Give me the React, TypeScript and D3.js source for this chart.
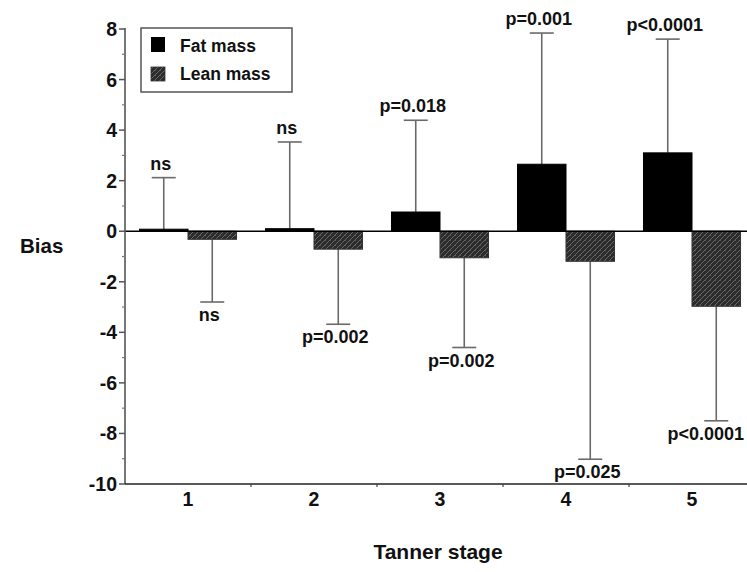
import React from "react";
import * as d3 from "d3";

const stages = ["1", "2", "3", "4", "5"];
const series = ["Fat mass", "Lean mass"];
const fatMass = [0.08, 0.1, 0.76, 2.65, 3.1];
const fatErr = [2.12, 3.53, 4.39, 7.84, 7.6];
const leanMass = [-0.32, -0.71, -1.05, -1.19, -2.97];
const leanErr = [-2.8, -3.68, -4.6, -9.02, -7.5];
const fatLabels = ["ns", "ns", "p=0.018", "p=0.001", "p<0.0001"];
const leanLabels = ["ns", "p=0.002", "p=0.002", "p=0.025", "p<0.0001"];
const yTicks = [-10, -8, -6, -4, -2, 0, 2, 4, 6, 8];
const yMinor = [-9, -7, -5, -3, -1, 1, 3, 5, 7];

const W = 747;
const H = 572;
const FONT = "'Liberation Sans', Arial, Helvetica, sans-serif";

export default function App() {
  const y = d3.scaleLinear().domain([-10, 8]).range([484, 29]);
  const x0 = d3.scaleBand<string>().domain(stages).range([125, 755]).paddingInner(0.23).paddingOuter(0.115);
  const x1 = d3.scaleBand<string>().domain(series).range([0, x0.bandwidth()]);
  const bw = x1.bandwidth();
  const capHalf = 12;
  const errColor = "#6a6a6a";

  const clampX = (cx: number, label: string) => {
    const approx = label.length * 9.8;
    return Math.min(cx, W - 2 - approx / 2);
  };

  return (
    <svg width={W} height={H} style={{ position: "absolute", left: 0, top: 0, background: "#fff" }} fontFamily={FONT}>
      <defs>
        <pattern id="hatch" width="5" height="5" patternUnits="userSpaceOnUse">
          <rect width="5" height="5" fill="#2c2c2c" />
          <line x1="0" y1="5" x2="5" y2="0" stroke="#6e6e6e" strokeWidth="0.9" />
          <line x1="-1" y1="1" x2="1" y2="-1" stroke="#6e6e6e" strokeWidth="0.9" />
          <line x1="4" y1="6" x2="6" y2="4" stroke="#6e6e6e" strokeWidth="0.9" />
          <rect x="0" y="0" width="1" height="1" fill="#555" />
        </pattern>
      </defs>

      {/* error bars (drawn first, behind bars) */}
      {stages.map((s, i) => {
        const fx = x0(s)! + x1("Fat mass")! + bw / 2;
        const lx = x0(s)! + x1("Lean mass")! + bw / 2;
        return (
          <g key={"e" + s} stroke={errColor} strokeWidth={1.6}>
            <line x1={fx} x2={fx} y1={y(fatMass[i])} y2={y(fatErr[i])} />
            <line x1={fx - capHalf} x2={fx + capHalf} y1={y(fatErr[i])} y2={y(fatErr[i])} />
            <line x1={lx} x2={lx} y1={y(leanMass[i])} y2={y(leanErr[i])} />
            <line x1={lx - capHalf} x2={lx + capHalf} y1={y(leanErr[i])} y2={y(leanErr[i])} />
          </g>
        );
      })}

      {/* bars */}
      {stages.map((s, i) => {
        const fx = x0(s)! + x1("Fat mass")!;
        const lx = x0(s)! + x1("Lean mass")!;
        const fy = Math.min(y(fatMass[i]), y(0));
        const fh = Math.abs(y(fatMass[i]) - y(0));
        return (
          <g key={"b" + s}>
            <rect x={fx} y={fy} width={bw} height={Math.max(fh, 1)} fill="#000" stroke="#000" strokeWidth={1} />
            <rect x={lx} y={y(0)} width={bw} height={y(leanMass[i]) - y(0)} fill="url(#hatch)" stroke="#333" strokeWidth={1} />
          </g>
        );
      })}

      {/* zero line */}
      <line x1={125} x2={W} y1={y(0)} y2={y(0)} stroke="#000" strokeWidth={1.5} />

      {/* annotations */}
      {stages.map((s, i) => {
        const fx = x0(s)! + x1("Fat mass")! + bw / 2;
        const lx = x0(s)! + x1("Lean mass")! + bw / 2;
        return (
          <g key={"t" + s} fontSize={18} fontWeight="bold" textAnchor="middle" fill="#111">
            <text x={clampX(fx - 3, fatLabels[i])} y={y(fatErr[i]) - 8}>{fatLabels[i]}</text>
            <text x={clampX(lx - 3, leanLabels[i])} y={y(leanErr[i]) + 19}>{leanLabels[i]}</text>
          </g>
        );
      })}

      {/* y axis */}
      <line x1={125} x2={125} y1={y(8) - 1} y2={y(-10)} stroke="#555" strokeWidth={1.6} />
      {yTicks.map((t) => (
        <g key={"yt" + t}>
          <line x1={119} x2={125} y1={y(t)} y2={y(t)} stroke="#555" strokeWidth={1.5} />
          <text x={117} y={y(t)} dy="0.36em" textAnchor="end" fontSize={19.5} fontWeight="bold" fill="#111">
            {t}
          </text>
        </g>
      ))}
      {yMinor.map((t) => (
        <line key={"ym" + t} x1={122} x2={125} y1={y(t)} y2={y(t)} stroke="#777" strokeWidth={1.2} />
      ))}

      {/* x axis */}
      <line x1={125} x2={W} y1={y(-10)} y2={y(-10)} stroke="#222" strokeWidth={1.5} />
      {stages.slice(1).map((s) => (
        <line key={"xt" + s} x1={x0(s)! - x0.step() * 0.115} x2={x0(s)! - x0.step() * 0.115} y1={y(-10)} y2={y(-10) + 3} stroke="#444" strokeWidth={1.2} />
      ))}
      {stages.map((s) => (
        <text key={"xl" + s} x={x0(s)! + x0.bandwidth() / 2} y={506} textAnchor="middle" fontSize={19.5} fontWeight="bold" fill="#111">
          {s}
        </text>
      ))}

      {/* axis titles */}
      <text x={20} y={253} fontSize={20.5} fontWeight="bold" fill="#111">Bias</text>
      <text x={438} y={559} textAnchor="middle" fontSize={21} fontWeight="bold" fill="#111">Tanner stage</text>

      {/* legend */}
      <rect x={141} y={28} width={151} height={64} fill="#fff" stroke="#555" strokeWidth={1.5} />
      <rect x={151} y={37} width={14} height={15} fill="#000" />
      <rect x={151} y={67} width={14} height={14} fill="url(#hatch)" stroke="#333" strokeWidth={0.8} />
      <text x={180} y={52} fontSize={17.5} fontWeight="bold" fill="#111">{series[0]}</text>
      <text x={180} y={80} fontSize={17.5} fontWeight="bold" fill="#111">{series[1]}</text>
    </svg>
  );
}
